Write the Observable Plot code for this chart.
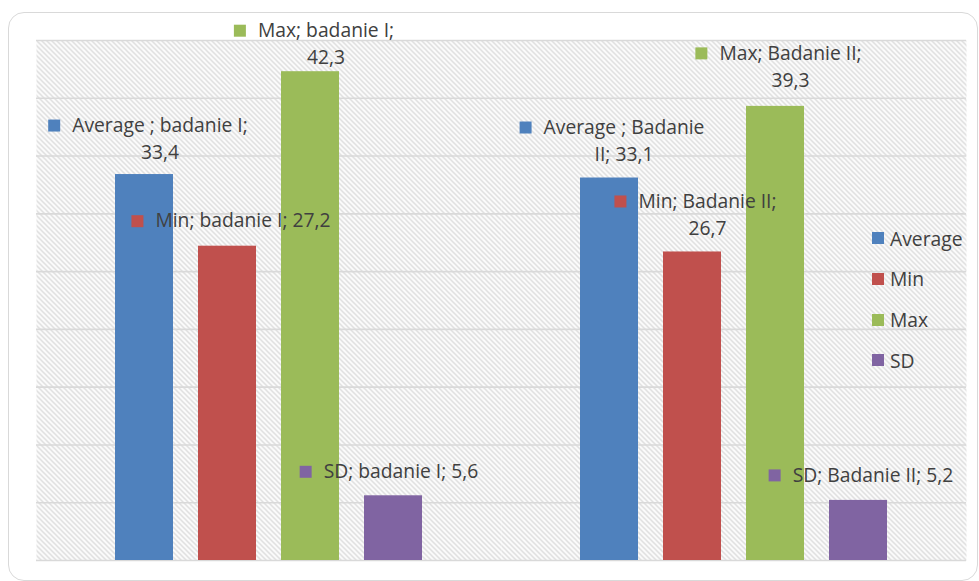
<!DOCTYPE html>
<html>
<head>
<meta charset="utf-8">
<script src="https://cdn.jsdelivr.net/npm/d3@7"></script>
<script src="https://cdn.jsdelivr.net/npm/@observablehq/plot@0.6"></script>
<style>
  html, body { margin: 0; padding: 0; background: #fff; }
  #wrap { position: relative; width: 979px; height: 581px; overflow: hidden; font-family: "Open Sans", sans-serif; }
  #border { position: absolute; left: 8px; top: 12px; width: 970px; height: 569px; box-sizing: border-box;
            border: 1.5px solid #d9d9d9; border-radius: 16px; pointer-events: none; }
  #chart { position: absolute; left: 0; top: 0; }
  #legend { position: absolute; left: 872px; top: 227px; color: #404040; font-size: 19.3px; }
  #legend .item { display: flex; align-items: center; height: 22px; margin-bottom: 18.8px; }
  #legend .sw { width: 12px; height: 12px; margin-right: 6px; }
</style>
</head>
<body>
<div id="wrap">
  <div id="chart"></div>
  <div id="border"></div>
  <div id="legend"></div>
</div>
<script>
// ---- data ----
const groups = ["badanie I", "Badanie II"];
const series = ["Average", "Min", "Max", "SD"];
const colors = ["#4F81BD", "#C0504D", "#9BBB59", "#8064A2"];
const valuesI = [33.4, 27.2, 42.3, 5.6];
const valuesII = [33.1, 26.7, 39.3, 5.2];
const yTicks = [0, 5, 10, 15, 20, 25, 30, 35, 40, 45];

// data-label text lines (as wrapped in the reference)
const labelLine1 = ["Average ; badanie I;", "Min; badanie I; 27,2", "Max; badanie I;", "SD; badanie I; 5,6",
                    "Average ; Badanie", "Min; Badanie II;", "Max; Badanie II;", "SD; Badanie II; 5,2"];
const labelLine2 = ["33,4", "", "42,3", "", "II; 33,1", "26,7", "39,3", ""];
// label placement offsets from bar top-centre (layout, px)
const labelDx = [15.5, 15.5, 15.5, 7.5, 14.5, 15, 15, 14.5];
const labelDy = [-49, -25, -41, -24, -50.5, -50.5, -53, -25];

// ---- build table ----
const rows = [];
groups.forEach((g, gi) => series.forEach((s, si) => {
  rows.push({group: g, series: s, value: (gi === 0 ? valuesI : valuesII)[si]});
}));

const fontSize = 19.3;
const textColor = "#404040";
const ctx = document.createElement("canvas").getContext("2d");
ctx.font = `${fontSize}px "Open Sans"`;

const labelMarks = [];
rows.forEach((r, i) => {
  const l1 = labelLine1[i], l2 = labelLine2[i];
  const w = ctx.measureText(l1).width;
  const dx = labelDx[i], dy = labelDy[i];
  const color = colors[series.indexOf(r.series)];
  labelMarks.push(Plot.dot([r], {fx: "group", x: "series", y: "value", symbol: "square", r: 12 / Math.sqrt(Math.PI),
    fill: color, stroke: "none", dx: dx - w / 2 - 18, dy: dy}));
  labelMarks.push(Plot.text([r], {fx: "group", x: "series", y: "value", text: () => l1, dx, dy,
    fill: textColor, fontSize, textAnchor: "middle"}));
  if (l2) labelMarks.push(Plot.text([r], {fx: "group", x: "series", y: "value", text: () => l2, dx, dy: dy + 27.5,
    fill: textColor, fontSize, textAnchor: "middle"}));
});

const chart = Plot.plot({
  width: 979, height: 581,
  marginLeft: 35, marginRight: 13, marginTop: 40, marginBottom: 21,
  style: {fontFamily: '"Open Sans", sans-serif', background: "transparent", overflow: "visible"},
  fx: {domain: groups, padding: 0, axis: null},
  x: {domain: series, paddingInner: 0.305, paddingOuter: 0.94, axis: null},
  y: {domain: [0, 45], axis: null},
  color: {domain: series, range: colors},
  marks: [
    Plot.frame({fill: "url(#hatch)", stroke: "none"}),
    Plot.ruleY(yTicks, {stroke: "#d9d9d9", strokeWidth: 1.6}),
    Plot.barY(rows, {fx: "group", x: "series", y: "value", fill: "series"}),
    ...labelMarks
  ]
});

// hatch pattern for the plot area
const ns = "http://www.w3.org/2000/svg";
const defs = document.createElementNS(ns, "defs");
const pat = document.createElementNS(ns, "pattern");
pat.setAttribute("id", "hatch");
pat.setAttribute("patternUnits", "userSpaceOnUse");
pat.setAttribute("width", 5);
pat.setAttribute("height", 5);
const bg = document.createElementNS(ns, "rect");
bg.setAttribute("width", 5); bg.setAttribute("height", 5); bg.setAttribute("fill", "#ffffff");
const p = document.createElementNS(ns, "path");
p.setAttribute("d", "M-1,-1L6,6M-1,4L1,6M4,-1L6,1");
p.setAttribute("stroke", "#d6d6d6");
p.setAttribute("stroke-width", 1.3);
pat.appendChild(bg); pat.appendChild(p); defs.appendChild(pat);
chart.insertBefore(defs, chart.firstChild);

document.getElementById("chart").appendChild(chart);

// legend
const legend = document.getElementById("legend");
series.forEach((s, i) => {
  const it = document.createElement("div"); it.className = "item";
  const sw = document.createElement("div"); sw.className = "sw"; sw.style.background = colors[i];
  const tx = document.createElement("span"); tx.textContent = s;
  it.appendChild(sw); it.appendChild(tx); legend.appendChild(it);
});
</script>
</body>
</html>
